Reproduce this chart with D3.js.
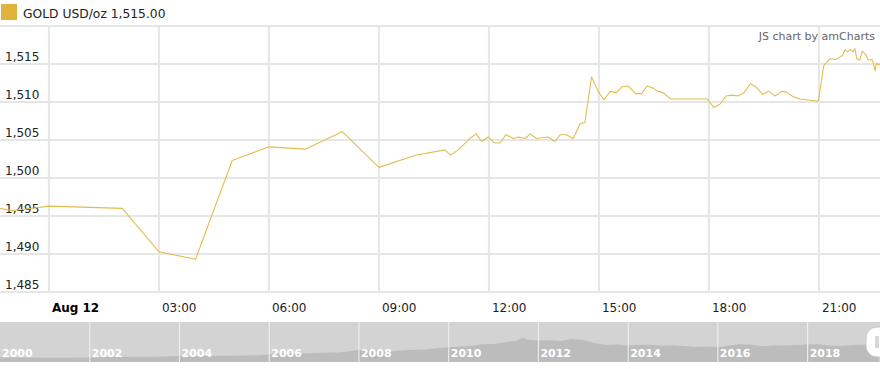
<!DOCTYPE html>
<html>
<head>
<meta charset="utf-8">
<script src="https://cdn.jsdelivr.net/npm/d3@7"></script>
<style>
  body { margin: 0; background: #fff; }
  svg { display: block; font-family: "DejaVu Sans", Verdana, sans-serif; }
</style>
</head>
<body>
<svg width="880" height="369"></svg>
<script>
// intraday gold quotes, Aug 11-12 2019
var times = [
  "2019-08-11 22:40", "2019-08-11 23:00", "2019-08-12 00:00", "2019-08-12 02:00",
  "2019-08-12 03:00", "2019-08-12 04:00", "2019-08-12 05:00", "2019-08-12 06:00",
  "2019-08-12 07:00", "2019-08-12 08:00", "2019-08-12 09:00", "2019-08-12 10:00",
  "2019-08-12 10:48", "2019-08-12 10:57", "2019-08-12 11:10", "2019-08-12 11:29",
  "2019-08-12 11:39", "2019-08-12 11:48", "2019-08-12 11:59", "2019-08-12 12:09",
  "2019-08-12 12:18", "2019-08-12 12:28", "2019-08-12 12:40", "2019-08-12 12:49",
  "2019-08-12 12:59", "2019-08-12 13:08", "2019-08-12 13:18", "2019-08-12 13:37",
  "2019-08-12 13:48", "2019-08-12 13:57", "2019-08-12 14:07", "2019-08-12 14:18",
  "2019-08-12 14:29", "2019-08-12 14:37", "2019-08-12 14:48", "2019-08-12 14:59",
  "2019-08-12 15:08", "2019-08-12 15:19", "2019-08-12 15:28", "2019-08-12 15:38",
  "2019-08-12 15:48", "2019-08-12 16:00", "2019-08-12 16:10", "2019-08-12 16:19",
  "2019-08-12 16:29", "2019-08-12 16:37", "2019-08-12 16:46", "2019-08-12 16:57",
  "2019-08-12 17:57", "2019-08-12 18:08", "2019-08-12 18:18", "2019-08-12 18:28",
  "2019-08-12 18:37", "2019-08-12 18:47", "2019-08-12 18:57", "2019-08-12 19:08",
  "2019-08-12 19:17", "2019-08-12 19:28", "2019-08-12 19:38", "2019-08-12 19:48",
  "2019-08-12 19:59", "2019-08-12 20:07", "2019-08-12 20:18", "2019-08-12 20:29",
  "2019-08-12 20:59", "2019-08-12 21:08", "2019-08-12 21:18", "2019-08-12 21:28",
  "2019-08-12 21:38", "2019-08-12 21:43", "2019-08-12 21:47", "2019-08-12 21:51",
  "2019-08-12 21:56", "2019-08-12 21:59", "2019-08-12 22:02", "2019-08-12 22:07",
  "2019-08-12 22:11", "2019-08-12 22:16", "2019-08-12 22:21", "2019-08-12 22:26",
  "2019-08-12 22:28", "2019-08-12 22:32", "2019-08-12 22:34", "2019-08-12 22:38",
  "2019-08-12 22:40"
];
var prices = [
  1496.0, 1495.7, 1496.3, 1496.0,
  1490.3, 1489.3, 1502.3, 1504.1,
  1503.8, 1506.1, 1501.4, 1503.0,
  1503.7, 1503.0, 1503.7, 1505.2,
  1505.8, 1504.8, 1505.4, 1504.6,
  1504.6, 1505.7, 1505.2, 1505.4,
  1505.2, 1505.8, 1505.2, 1505.4,
  1504.8, 1505.7, 1505.7, 1505.2,
  1507.1, 1507.3, 1513.3, 1511.4,
  1510.3, 1511.4, 1511.2, 1512.0,
  1512.1, 1511.1, 1511.1, 1512.1,
  1511.8, 1511.4, 1511.2, 1510.4,
  1510.4, 1509.3, 1509.7, 1510.8,
  1510.9, 1510.8, 1511.2, 1512.4,
  1512.0, 1511.0, 1511.4, 1510.8,
  1511.4, 1511.3, 1510.7, 1510.4,
  1510.1, 1514.8, 1515.7, 1515.6,
  1516.1, 1516.9, 1516.6, 1516.9,
  1516.6, 1517.0, 1515.7, 1515.5,
  1516.7, 1516.3, 1515.5, 1515.6,
  1515.4, 1514.1, 1515.1, 1514.9,
  1515.0
];
var yTicks = [1485, 1490, 1495, 1500, 1505, 1510, 1515];
var legendLabel = "GOLD USD/oz 1,515.00";

// long history shown in the scrollbar (quarterly)
var histDates = [
  "2000-01", "2000-04", "2000-07", "2000-10", "2001-01", "2001-04", "2001-07", "2001-10",
  "2002-01", "2002-04", "2002-07", "2002-10", "2003-01", "2003-04", "2003-07", "2003-10",
  "2004-01", "2004-04", "2004-07", "2004-10", "2005-01", "2005-04", "2005-07", "2005-10",
  "2006-01", "2006-04", "2006-07", "2006-10", "2007-01", "2007-04", "2007-07", "2007-10",
  "2008-01", "2008-04", "2008-07", "2008-10", "2009-01", "2009-04", "2009-07", "2009-10",
  "2010-01", "2010-04", "2010-07", "2010-10", "2011-01", "2011-04", "2011-07", "2011-09",
  "2011-10", "2012-01", "2012-04", "2012-07", "2012-10", "2013-01", "2013-04", "2013-07",
  "2013-10", "2014-01", "2014-04", "2014-07", "2014-10", "2015-01", "2015-04", "2015-07",
  "2015-10", "2016-01", "2016-04", "2016-07", "2016-10", "2017-01", "2017-04", "2017-07",
  "2017-10", "2018-01", "2018-04", "2018-07", "2018-10", "2019-01", "2019-04", "2019-06",
  "2019-08"
];
var histPrices = [
  290, 285, 278, 272, 265, 262, 270, 280,
  290, 305, 315, 320, 345, 330, 350, 380,
  410, 395, 400, 420, 425, 430, 440, 470,
  540, 610, 620, 600, 640, 670, 680, 760,
  890, 900, 920, 780, 860, 900, 930, 1040,
  1100, 1150, 1200, 1340, 1360, 1480, 1620, 1880,
  1700, 1650, 1660, 1600, 1760, 1680, 1450, 1290,
  1320, 1250, 1300, 1310, 1220, 1260, 1200, 1120,
  1160, 1100, 1240, 1340, 1300, 1190, 1260, 1240,
  1290, 1330, 1340, 1240, 1210, 1290, 1300, 1400,
  1500
];
var yearTicks = [2000, 2002, 2004, 2006, 2008, 2010, 2012, 2014, 2016, 2018];

var svg = d3.select("svg"),
    width = 880,
    parseTime = d3.timeParse("%Y-%m-%d %H:%M"),
    parseMonth = d3.timeParse("%Y-%m");

var data = times.map(function(t, i) { return { date: parseTime(t), value: prices[i] }; });
var hist = histDates.map(function(t, i) { return { date: parseMonth(t), value: histPrices[i] }; });

var plotTop = 26, plotBottom = 292;

var x = d3.scaleTime()
    .domain([parseTime("2019-08-11 22:40"), parseTime("2019-08-12 22:40")])
    .range([0, width]);

var y = d3.scaleLinear()
    .domain([1485, 1520])
    .range([plotBottom, plotTop]);

var gridColor = "#e6e6e6";

// horizontal grid (incl. top border line)
svg.append("g").selectAll("line")
  .data(yTicks.concat([1520]))
  .enter().append("line")
    .attr("x1", 0).attr("x2", width)
    .attr("y1", function(d) { return y(d); })
    .attr("y2", function(d) { return y(d); })
    .attr("stroke", gridColor)
    .attr("stroke-width", 2);

// vertical grid every 3 hours
var xTicks = x.ticks(d3.timeHour.every(3));
svg.append("g").selectAll("line")
  .data(xTicks)
  .enter().append("line")
    .attr("x1", function(d) { return x(d); })
    .attr("x2", function(d) { return x(d); })
    .attr("y1", plotTop).attr("y2", plotBottom)
    .attr("stroke", gridColor)
    .attr("stroke-width", 2);

// y labels sit just above their grid line
svg.append("g").selectAll("text")
  .data(yTicks)
  .enter().append("text")
    .attr("x", 5)
    .attr("y", function(d) { return y(d) - 3; })
    .attr("font-size", 12)
    .attr("fill", "#222")
    .text(function(d) { return d3.format(",")(d); });

// x labels
var fmtHour = d3.timeFormat("%H:%M"), fmtDay = d3.timeFormat("%b %d");
svg.append("g").selectAll("text")
  .data(xTicks)
  .enter().append("text")
    .attr("x", function(d) { return x(d) + 3; })
    .attr("y", 312)
    .attr("font-size", 12)
    .attr("font-weight", function(d) { return d.getHours() === 0 ? "bold" : "normal"; })
    .attr("fill", function(d) { return d.getHours() === 0 ? "#000" : "#222"; })
    .text(function(d) { return d.getHours() === 0 ? fmtDay(d) : fmtHour(d); });

// price line
svg.append("clipPath").attr("id", "plot-clip")
  .append("rect").attr("x", 0).attr("y", plotTop).attr("width", width).attr("height", plotBottom - plotTop);

var line = d3.line()
    .x(function(d) { return x(d.date); })
    .y(function(d) { return y(d.value); });

svg.append("path")
    .datum(data)
    .attr("clip-path", "url(#plot-clip)")
    .attr("fill", "none")
    .attr("stroke", "#e5bc50")
    .attr("stroke-width", 1.1)
    .attr("stroke-linejoin", "round")
    .attr("d", line);

// legend
svg.append("rect")
    .attr("x", 1).attr("y", 4).attr("width", 16).attr("height", 16)
    .attr("fill", "#e2b33c");
svg.append("text")
    .attr("x", 23).attr("y", 18)
    .attr("font-size", 12.3)
    .attr("fill", "#222")
    .text(legendLabel);

// watermark
svg.append("text")
    .attr("x", 875).attr("y", 40)
    .attr("text-anchor", "end")
    .attr("font-size", 11)
    .attr("fill", "#666")
    .text("JS chart by amCharts");

// scrollbar
var sbTop = 322, sbBottom = 362;
svg.append("rect")
    .attr("x", 0).attr("y", sbTop).attr("width", width).attr("height", sbBottom - sbTop)
    .attr("fill", "#d3d3d3");

var xs = d3.scaleTime()
    .domain([parseMonth("2000-01"), parseTime("2019-08-12 22:40")])
    .range([0, width]);
var ys = d3.scaleLinear()
    .domain([0, 3200])
    .range([361, 321]);

var area = d3.area()
    .x(function(d) { return xs(d.date); })
    .y0(sbBottom)
    .y1(function(d) { return ys(d.value); });

svg.append("path")
    .datum(hist)
    .attr("fill", "#bcbcbc")
    .attr("d", area);

var yearG = svg.append("g").selectAll("g")
  .data(yearTicks)
  .enter().append("g")
    .attr("transform", function(d) { return "translate(" + xs(new Date(d, 0, 1)) + ",0)"; });
yearG.filter(function(d) { return d !== 2000; }).append("line")
    .attr("y1", sbTop).attr("y2", sbBottom)
    .attr("stroke", "#f2f2f2")
    .attr("stroke-width", 1);
yearG.append("text")
    .attr("x", 2).attr("y", 357)
    .attr("font-size", 11)
    .attr("font-weight", "bold")
    .attr("fill", "#fff")
    .text(function(d) { return d; });

// drag handle at the right end
svg.append("rect")
    .attr("x", 866).attr("y", 327).attr("width", 30).attr("height", 30).attr("rx", 11)
    .attr("fill", "#fff")
    .attr("stroke", "#c8c8c8")
    .attr("stroke-width", 1);
svg.append("rect")
    .attr("x", 875).attr("y", 336).attr("width", 4).attr("height", 12)
    .attr("fill", "#d8d8d8");
</script>
</body>
</html>
